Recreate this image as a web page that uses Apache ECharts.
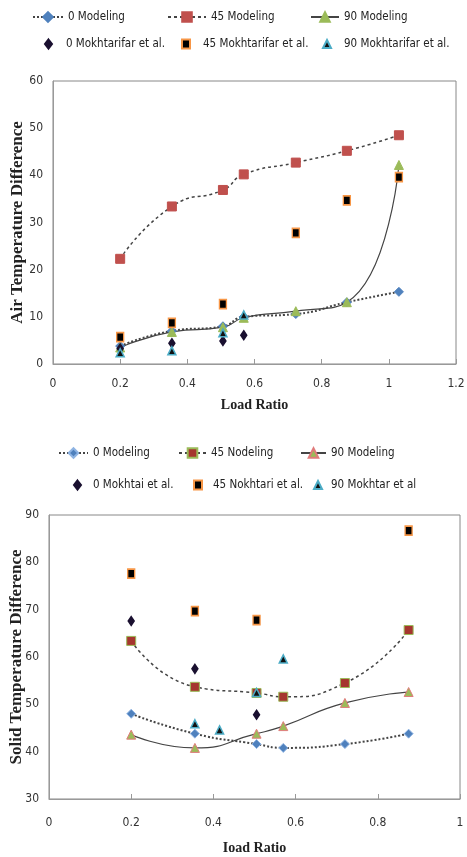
<!DOCTYPE html>
<html>
<head>
<meta charset="utf-8">
<script src="https://cdn.jsdelivr.net/npm/echarts@6/dist/echarts.min.js"></script>
<style>
  html, body { margin: 0; padding: 0; background: #fff; }
  #airChart { position: absolute; left: 0; top: 0; width: 467px; height: 420px; }
  #solidChart { position: absolute; left: 0; top: 420px; width: 467px; height: 437px; }
</style>
</head>
<body>
<div id="airChart"></div>
<div id="solidChart"></div>
<script>
// air temperature difference (top chart)
const airModelX = [0.2, 0.354, 0.506, 0.568, 0.723, 0.875, 1.03]
const air0Model = [3.8, 7.0, 8.0, 10.0, 10.6, 13.1, 15.3]
const air45Model = [22.3, 33.4, 36.9, 40.2, 42.7, 45.2, 48.5]
const air90Model = [3.5, 6.8, 7.8, 9.8, 11.2, 13.1, 42.2]
const air0ExpX = [0.2, 0.354, 0.506, 0.568]
const air0Exp = [3.3, 4.4, 4.9, 6.1]
const air45ExpX = [0.2, 0.354, 0.506, 0.723, 0.875, 1.03]
const air45Exp = [5.7, 8.7, 12.7, 27.8, 34.7, 39.6]
const air90ExpX = [0.2, 0.354, 0.506, 0.568]
const air90Exp = [2.4, 2.8, 6.6, 10.4]
const airXTicks = [0, 1.2, 0.2]
const airYTicks = [0, 60, 10]
const airNames = ['0 Modeling', '45 Modeling', '90 Modeling', '0 Mokhtarifar et al.', '45 Mokhtarifar et al.', '90 Mokhtarifar et al.']

// solid temperature difference (bottom chart)
const solidModelX = [0.2, 0.355, 0.505, 0.57, 0.72, 0.875]
const solid0Model = [48.0, 43.8, 41.6, 40.8, 41.6, 43.8]
const solid45Model = [63.4, 53.7, 52.4, 51.6, 54.5, 65.7]
const solid90Model = [43.6, 40.8, 43.8, 45.4, 50.3, 52.6]
const solid0ExpX = [0.2, 0.355, 0.505]
const solid0Exp = [67.6, 57.5, 47.8]
const solid45ExpX = [0.2, 0.355, 0.505, 0.875]
const solid45Exp = [77.6, 69.7, 67.8, 86.7]
const solid90ExpX = [0.355, 0.415, 0.505, 0.57]
const solid90Exp = [45.9, 44.6, 52.5, 59.6]
const solidXTicks = [0, 1, 0.2]
const solidYTicks = [30, 90, 10]
const solidNames = ['0 Modeling', '45 Nodeling', '90 Modeling', '0 Mokhtai et al.', '45 Nokhtari et al.', '90 Mokhtar et al']

const pairs = (xs, ys) => xs.map((x, i) => [x, ys[i]])

const narrow = "'DejaVu Sans Condensed', 'Liberation Sans', sans-serif"
const tickFont = { fontFamily: narrow, fontSize: 12, color: '#333' }
const titleFont = { fontFamily: 'Liberation Serif', fontWeight: 'bold', fontSize: 14, color: '#222' }
const legendFont = { fontFamily: narrow, fontSize: 11.5, color: '#222' }

// one legend component per entry so each sits where it does in the picture
// spot: [left, top, iconWidth, iconHeight, textShift]
function legends (names, spots) {
  return spots.map((s, i) => ({
    data: [names[i]],
    left: s[0],
    top: s[1],
    padding: 0,
    itemWidth: s[2],
    itemHeight: s[3],
    selectedMode: false,
    textStyle: Object.assign({ padding: [0, 0, 0, s[4]] }, legendFont)
  }))
}

function axes (xt, yt, grid, xName, yName, labelGap, xNameGap, yNameGap) {
  return {
    grid: Object.assign({ outerBoundsMode: 'none', containLabel: false }, grid),
    xAxis: {
      type: 'value', min: xt[0], max: xt[1], interval: xt[2],
      name: xName, nameLocation: 'middle', nameGap: xNameGap, nameMoveOverlap: false,
      nameTextStyle: titleFont,
      axisLine: { lineStyle: { color: '#999' } },
      axisTick: { inside: true, length: 5, lineStyle: { color: '#999' } },
      axisLabel: Object.assign({ margin: labelGap }, tickFont),
      splitLine: { show: false }
    },
    yAxis: {
      type: 'value', min: yt[0], max: yt[1], interval: yt[2],
      name: yName, nameLocation: 'middle', nameGap: yNameGap, nameMoveOverlap: false,
      nameTextStyle: Object.assign({}, titleFont, { fontSize: 17 }),
      axisLine: { show: true, lineStyle: { color: '#999' } },
      axisTick: { show: false },
      axisLabel: Object.assign({ margin: 10 }, tickFont),
      splitLine: { show: false }
    }
  }
}

function modelLine (name, data, lineType, lineW, symbol, size, fill, border) {
  return {
    name: name, type: 'line', data: data, smooth: 0.55,
    symbol: symbol, symbolSize: size,
    lineStyle: { color: '#444', width: lineW, type: lineType },
    itemStyle: { color: fill, borderColor: border, borderWidth: 1 },
    z: 2
  }
}

function expPoints (name, data, symbol, size, fill, border) {
  return {
    name: name, type: 'scatter', data: data,
    symbol: symbol, symbolSize: size,
    itemStyle: { color: fill, borderColor: border, borderWidth: 1.5, opacity: 1 },
    z: 3
  }
}

const airChart = echarts.init(document.getElementById('airChart'))
airChart.setOption(Object.assign(
  axes(airXTicks, airYTicks,
    { left: 53, top: 81, width: 403, height: 283, show: true, borderColor: '#888', borderWidth: 1 },
    'Load Ratio', 'Air Temperature Difference', 14, 34, 27),
  {
    animation: false,
    legend: legends(airNames, [
      [32, 11, 30, 12, 0], [167, 11, 38, 12, 0], [310, 11, 28, 12, 0],
      [44, 38, 7, 9, 9], [181, 38, 8, 9, 8], [322, 38, 8, 8, 8]
    ]),
    series: [
      modelLine(airNames[0], pairs(airModelX, air0Model), 'dotted', 2, 'diamond', 9, '#4f81bd', '#4f81bd'),
      modelLine(airNames[1], pairs(airModelX, air45Model), [3, 3], 1.5, 'rect', 9, '#c0504d', '#c0504d'),
      modelLine(airNames[2], pairs(airModelX, air90Model), 'solid', 1.2, 'triangle', 9, '#9bbb59', '#9bbb59'),
      expPoints(airNames[3], pairs(air0ExpX, air0Exp), 'diamond', [6, 9], '#1a1030', '#1a1030'),
      expPoints(airNames[4], pairs(air45ExpX, air45Exp), 'rect', [7, 9], '#000', '#f79646'),
      expPoints(airNames[5], pairs(air90ExpX, air90Exp), 'triangle', 8, '#111', '#4bacc6')
    ]
  }
))

const solidChart = echarts.init(document.getElementById('solidChart'))
solidChart.setOption(Object.assign(
  axes(solidXTicks, solidYTicks,
    { left: 49, top: 95, width: 411, height: 284, show: true, borderColor: '#888', borderWidth: 1 },
    'Ioad Ratio', 'Solid Temperature Difference', 18, 42, 24),
  {
    animation: false,
    legend: legends(solidNames, [
      [58, 27, 29, 12, 0], [178, 27, 27, 12, 0], [300, 27, 25, 12, 0],
      [73, 59, 7, 9, 7], [193, 59, 8, 9, 6], [313, 59, 8, 8, 4]
    ]),
    series: [
      modelLine(solidNames[0], pairs(solidModelX, solid0Model), 'dotted', 2, 'diamond', 9, '#4f81bd', '#8fb4e3'),
      modelLine(solidNames[1], pairs(solidModelX, solid45Model), [3, 3], 1.5, 'rect', 9, '#a5362f', '#9bbb59'),
      modelLine(solidNames[2], pairs(solidModelX, solid90Model), 'solid', 1.2, 'triangle', 9, '#9bbb59', '#e07b7b'),
      expPoints(solidNames[3], pairs(solid0ExpX, solid0Exp), 'diamond', [6, 9], '#1a1030', '#1a1030'),
      expPoints(solidNames[4], pairs(solid45ExpX, solid45Exp), 'rect', [7, 9], '#000', '#f79646'),
      expPoints(solidNames[5], pairs(solid90ExpX, solid90Exp), 'triangle', 8, '#111', '#4bacc6')
    ]
  }
))
</script>
</body>
</html>
